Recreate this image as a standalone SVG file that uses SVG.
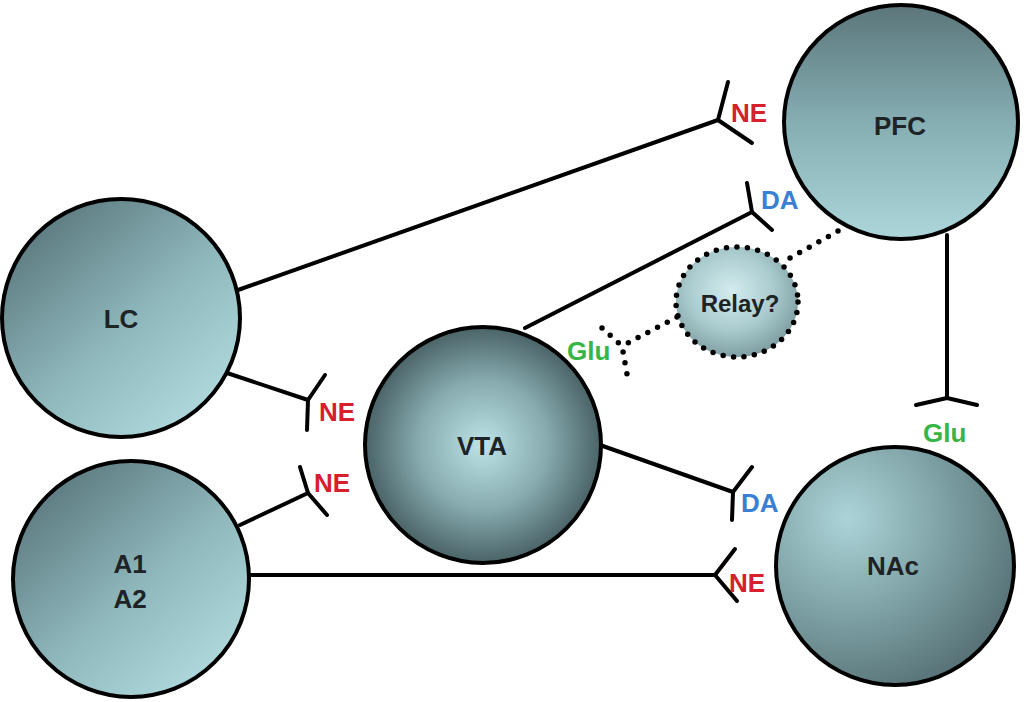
<svg xmlns="http://www.w3.org/2000/svg" width="1024" height="702" viewBox="0 0 1024 702">
<defs>
<linearGradient id="gDiag" x1="0.15" y1="0.1" x2="0.85" y2="0.9">
<stop offset="0" stop-color="#5d7b80"/>
<stop offset="0.55" stop-color="#8fb8bd"/>
<stop offset="1" stop-color="#b0d9dd"/>
</linearGradient>
<linearGradient id="gVert" x1="0" y1="0" x2="0" y2="1">
<stop offset="0" stop-color="#5b767a"/>
<stop offset="0.5" stop-color="#85aeb3"/>
<stop offset="1" stop-color="#acd6da"/>
</linearGradient>
<radialGradient id="gVTA" cx="0.5" cy="0.5" r="0.5">
<stop offset="0" stop-color="#bde3e6"/>
<stop offset="0.55" stop-color="#86aaae"/>
<stop offset="1" stop-color="#4a6367"/>
</radialGradient>
<radialGradient id="gNAc" cx="0.3" cy="0.3" r="0.85">
<stop offset="0" stop-color="#acd4d8"/>
<stop offset="0.5" stop-color="#7c9fa3"/>
<stop offset="1" stop-color="#4f686c"/>
</radialGradient>
<radialGradient id="gRelay" cx="0.45" cy="0.4" r="0.6">
<stop offset="0" stop-color="#d3ecee"/>
<stop offset="0.6" stop-color="#a9cacd"/>
<stop offset="1" stop-color="#7f9fa3"/>
</radialGradient>
</defs>
<style>
.node{stroke:#000;stroke-width:4}
.lbl{font-family:"Liberation Sans",Arial,sans-serif;font-weight:bold;font-size:26px;fill:#1e2326;text-anchor:middle}
.nt{font-family:"Liberation Sans",Arial,sans-serif;font-weight:bold;font-size:26px}
.ne{fill:#d6202c}
.da{fill:#3a7fd2}
.glu{fill:#37b546}
.ln{stroke:#000;stroke-width:4;fill:none;stroke-linecap:round;stroke-linejoin:round}
.dot{stroke:#000;stroke-width:5.5;fill:none;stroke-linecap:round;stroke-dasharray:0 11}
</style>
<rect width="1024" height="702" fill="#fff"/>
<g id="connectors">
<line class="ln" x1="238" y1="290" x2="718" y2="120"/>
<polyline class="ln" points="728,82 718,120 752,143"/>
<line class="ln" x1="525" y1="328" x2="752" y2="212"/>
<polyline class="ln" points="747,183 752,212 772,230"/>
<line class="ln" x1="947" y1="235" x2="947" y2="398"/>
<polyline class="ln" points="916,405 947,398 977,405"/>
<line class="ln" x1="227" y1="373" x2="308" y2="400"/>
<polyline class="ln" points="325,375 308,400 307,430"/>
<line class="ln" x1="240" y1="525" x2="308" y2="493"/>
<polyline class="ln" points="300,467 308,493 327,515"/>
<line class="ln" x1="600" y1="445" x2="733" y2="492"/>
<polyline class="ln" points="752,467 733,492 732,520"/>
<line class="ln" x1="250" y1="575" x2="715" y2="575"/>
<polyline class="ln" points="735,549 715,575 737,601"/>
<line class="dot" x1="838" y1="231" x2="790" y2="258"/>
<line class="dot" x1="677" y1="317" x2="622" y2="346"/>
<polyline class="dot" points="602,328 622,346 627,374"/>
</g>
<g id="LC">
<circle class="node" cx="121" cy="318" r="119" fill="url(#gDiag)"/>
<text class="lbl" x="121" y="328">LC</text>
</g>
<g id="A1A2">
<circle class="node" cx="131" cy="579" r="118" fill="url(#gDiag)"/>
<text class="lbl" x="130" y="573">A1</text>
<text class="lbl" x="130" y="608">A2</text>
</g>
<g id="VTA">
<circle class="node" cx="483" cy="445" r="118" fill="url(#gVTA)"/>
<text class="lbl" x="482" y="455">VTA</text>
</g>
<g id="PFC">
<circle class="node" cx="901" cy="122" r="117" fill="url(#gVert)"/>
<text class="lbl" x="900" y="135">PFC</text>
</g>
<g id="NAc">
<circle class="node" cx="895" cy="566" r="119" fill="url(#gNAc)"/>
<text class="lbl" x="893" y="575">NAc</text>
</g>
<g id="Relay">
<ellipse cx="737" cy="302" rx="61" ry="55" style="fill:url(#gRelay);stroke:none"/>
<ellipse class="dot" cx="737" cy="302" rx="61" ry="55" style="stroke-dasharray:0 10.5"/>
<text class="lbl" x="740" y="312" style="font-size:24px">Relay?</text>
</g>
<g id="labels">
<text class="nt ne" x="731" y="122">NE</text>
<text class="nt da" x="761" y="209">DA</text>
<text class="nt glu" x="567" y="360">Glu</text>
<text class="nt glu" x="923" y="442">Glu</text>
<text class="nt ne" x="319" y="421">NE</text>
<text class="nt ne" x="314" y="492">NE</text>
<text class="nt da" x="741" y="512">DA</text>
<text class="nt ne" x="729" y="592">NE</text>
</g>
</svg>
